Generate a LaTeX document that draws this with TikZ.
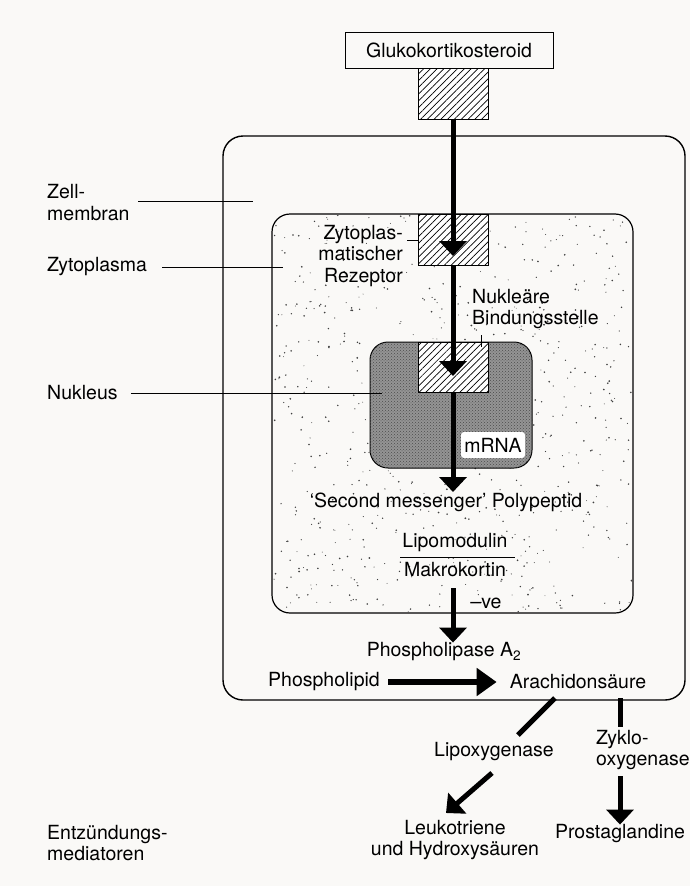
\documentclass[tikz,border=0pt]{standalone}
\usepackage{fontspec}
\setmainfont{TeX Gyre Heros}
\usetikzlibrary{arrows.meta,patterns,patterns.meta}
\definecolor{paper}{RGB}{250,249,247}
\begin{document}
\begin{tikzpicture}[x=1pt,y=-1pt,
  every node/.style={font=\fontsize{19.5}{21.5}\selectfont, inner sep=0pt},
  thinline/.style={line width=0.9pt},
  shaft/.style={line width=5pt},
  bigarrow/.style={line width=5pt,-{Triangle[width=27pt,length=15pt]}},
  hatchbox/.style={draw, line width=0.8pt, minimum width=70pt, minimum height=51pt,
    preaction={fill=white}, pattern={Lines[angle=45,distance=4.8pt,line width=0.7pt]}},
  region/.style={draw, line width=1.4pt},
]
\useasboundingbox (0,0) rectangle (690,886);
\fill[paper] (0,0) rectangle (690,886);

% cell membrane (outer box)
\node[region, rounded corners=20pt, minimum width=462pt, minimum height=564pt] (cell) at (454,418) {};

% cytoplasm with stipple
\node[region, line width=1.2pt, rounded corners=18pt, minimum width=361pt, minimum height=399pt] (cyto) at (452.5,413.5) {};
\begin{scope}
  \clip[rounded corners=18pt] (273,215) rectangle (632,612);
  \pgfmathsetseed{4711}
  \foreach \i in {1,...,700}{
    \pgfmathsetmacro{\xx}{273+359*rnd}
    \pgfmathsetmacro{\yy}{215+397*rnd}
    \pgfmathsetmacro{\rr}{0.45+0.5*rnd}
    \fill[black!75] (\xx,\yy) circle[radius=\rr];
  }
\end{scope}

% nucleus
\node[draw, line width=1pt, rounded corners=18pt, minimum width=162pt, minimum height=126pt,
  fill=black!42, postaction={pattern=crosshatch dots, pattern color=black!70}] (nucleus) at (451,405) {};
\node[fill=white, rounded corners=3pt, minimum width=64pt, minimum height=26pt] (mrna) at (493,445) {mRNA};

% hatched receptor boxes
\node[hatchbox] (hb1) at (453,93.5) {};
\node[hatchbox] (hb2) at (453,239.5) {};
\node[hatchbox, minimum height=50pt] (hb3) at (453,367) {};

% top box
\node[draw, line width=1pt, fill=paper, minimum width=208pt, minimum height=36pt] (gluko) at (449,50) {Glukokortikosteroid};

% side labels
\node[anchor=west, align=left] (zell) at (47,202.5) {Zell-\\membran};
\node[anchor=west] (zyto) at (47,267) {Zytoplasma};
\node[anchor=west] (nuk) at (47,393) {Nukleus};
\node[anchor=west, align=left] (entz) at (47,843) {Entzündungs-\\mediatoren};

\coordinate (zellend) at (253,201);
\coordinate (zytoend) at (283,266);
\coordinate (nukend) at (382,392);
\draw[thinline] (138,201) -- (zellend);
\draw[thinline] ([xshift=15pt]zyto.east) -- (zytoend |- zyto.east);
\draw[thinline] ([xshift=13pt]nuk.east) -- (nukend |- nuk.east);

% inner labels
\node[anchor=east, align=right] (zrez) at (403,256) {Zytoplas-\\matischer\\Rezeptor};
\coordinate (zrezend) at (407,240);
\draw[thinline] (zrezend) -- (hb2.west |- zrezend);
\node[anchor=west, align=left] (nbs) at (472,309) {Nukleäre\\Bindungsstelle};
\coordinate (nbsa) at (481,335);
\draw[thinline] (nbsa) -- (481,347);

\node (sm) at (446,502) {‘Second messenger’ Polypeptid};
\node (lipo) at (455,543) {Lipomodulin};
\node (makro) at (455,570) {Makrokortin};
\coordinate (fracl) at (400,557);
\coordinate (fracr) at (515,557);
\draw[line width=1pt] (fracl) -- (fracr);
\node (ve) at (486,603) {–ve};

\node (pla) at (444,652) {Phospholipase A\textsubscript{2}};
\node (pl) at (324,682) {Phospholipid};
\node (ara) at (578,682) {Arachidonsäure};
\node (lox) at (494,752) {Lipoxygenase};
\node[anchor=west, align=left] (cox) at (596,750) {Zyklo-\\oxygenase};
\node[align=center] (lt) at (455,840) {Leukotriene\\und Hydroxysäuren};
\node (pg) at (620,834) {Prostaglandine};

% main pathway arrows
\coordinate (t1) at (453,256);
\coordinate (t2) at (453,376);
\coordinate (t3) at (453,492);
\coordinate (a4s) at (453,588);
\draw[bigarrow] (hb1.south) -- (t1);
\draw[bigarrow] (hb2.south) -- (t2);
\draw[bigarrow] (hb3.south) -- (t3);
\draw[bigarrow] (a4s) -- (a4s |- pla.north);

\draw[line width=6pt,-{Triangle[width=27pt,length=20pt]}] ([xshift=8pt]pl.east) -- ([xshift=-13pt]ara.west);

\coordinate (loxa) at (555,698);
\coordinate (loxb) at (518,735);
\draw[shaft] (loxa) -- (loxb);
\coordinate (loxc) at (492,773);
\coordinate (loxd) at (446,813);
\draw[bigarrow] (loxc) -- (loxd);

\coordinate (coxa) at (620,698);
\coordinate (coxb) at (620,727);
\draw[shaft] (coxa) -- (coxb);
\coordinate (coxc) at (620,776);
\draw[bigarrow] (coxc) -- (coxc |- pg.north);
\end{tikzpicture}
\end{document}
